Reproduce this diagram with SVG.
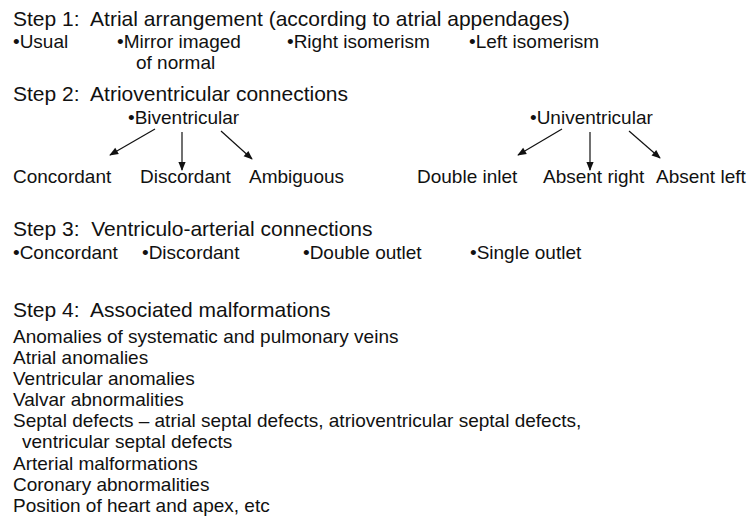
<svg xmlns="http://www.w3.org/2000/svg" width="747" height="516" viewBox="0 0 747 516">
<defs>
<style>
text{font-family:"Liberation Sans",Arial,sans-serif;fill:#111}
.h{font-size:21px}
.b{font-size:19px}
.c line{stroke:#111;stroke-width:1.2;marker-end:url(#ah)}
</style>
<marker id="ah" viewBox="0 0 10 10" refX="9" refY="5" markerWidth="10" markerHeight="9" markerUnits="userSpaceOnUse" orient="auto">
<path d="M0,1 L10,5 L0,9 Z" fill="#111"/>
</marker>
</defs>
<rect width="747" height="516" fill="#fff"/>
<g id="step1">
<text class="h" x="13" y="26" xml:space="preserve">Step 1:  Atrial arrangement (according to atrial appendages)</text>
<text class="b" x="13" y="48">•Usual</text>
<text class="b" x="117" y="48">•Mirror imaged</text>
<text class="b" x="136" y="69">of normal</text>
<text class="b" x="287" y="48">•Right isomerism</text>
<text class="b" x="469" y="48">•Left isomerism</text>
</g>
<g id="step2">
<text class="h" x="13" y="101" xml:space="preserve">Step 2:  Atrioventricular connections</text>
</g>
<g id="biventricular"><text class="b" x="128" y="124">•Biventricular</text></g>
<g id="univentricular"><text class="b" x="530" y="124">•Univentricular</text></g>
<g id="av-concordant"><text class="b" x="13" y="183">Concordant</text></g>
<g id="av-discordant"><text class="b" x="140" y="183">Discordant</text></g>
<g id="av-ambiguous"><text class="b" x="249" y="183">Ambiguous</text></g>
<g id="double-inlet"><text class="b" x="417" y="183">Double inlet</text></g>
<g id="absent-right"><text class="b" x="543" y="183">Absent right</text></g>
<g id="absent-left"><text class="b" x="656" y="183">Absent left</text></g>
<g id="connectors" class="c">
<line x1="155" y1="129" x2="110" y2="155"/>
<line x1="182" y1="132" x2="182" y2="170"/>
<line x1="221" y1="131" x2="252" y2="159"/>
<line x1="562" y1="129" x2="518" y2="155"/>
<line x1="590" y1="132" x2="590" y2="170"/>
<line x1="629" y1="131" x2="660" y2="158"/>
</g>
<g id="step3">
<text class="h" x="13" y="236" xml:space="preserve">Step 3:  Ventriculo-arterial connections</text>
<text class="b" x="13" y="259">•Concordant</text>
<text class="b" x="142" y="259">•Discordant</text>
<text class="b" x="303" y="259">•Double outlet</text>
<text class="b" x="470" y="259">•Single outlet</text>
</g>
<g id="step4">
<text class="h" x="13" y="317" xml:space="preserve">Step 4:  Associated malformations</text>
<text class="b" x="13" y="343">Anomalies of systematic and pulmonary veins</text>
<text class="b" x="13" y="364">Atrial anomalies</text>
<text class="b" x="13" y="385">Ventricular anomalies</text>
<text class="b" x="13" y="406">Valvar abnormalities</text>
<text class="b" x="13" y="427">Septal defects – atrial septal defects, atrioventricular septal defects,</text>
<text class="b" x="22" y="448">ventricular septal defects</text>
<text class="b" x="13" y="470">Arterial malformations</text>
<text class="b" x="13" y="491">Coronary abnormalities</text>
<text class="b" x="13" y="512">Position of heart and apex, etc</text>
</g>
</svg>
